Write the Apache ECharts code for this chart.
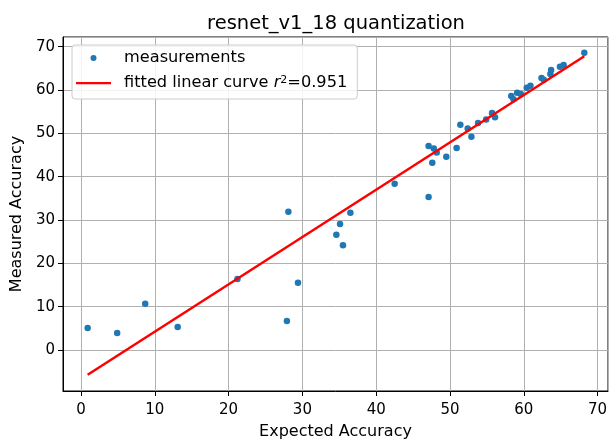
<!DOCTYPE html>
<html>
<head>
<meta charset="utf-8">
<script src="https://cdn.jsdelivr.net/npm/echarts@6/dist/echarts.min.js"></script>
<style>
html,body{margin:0;padding:0;background:#fff;}
#chart{width:609px;height:440px;}
</style>
</head>
<body>
<div id="chart"></div>
<script>
// ---- data ----
const expectedAccuracy = [0.9, 4.9, 8.7, 13.1, 21.2, 27.9, 28.1, 29.4, 34.6, 35.1, 35.5, 36.5, 42.5, 47.1, 47.1, 47.6, 47.8, 48.2, 49.5, 50.9, 51.4, 52.4, 52.9, 53.8, 54.9, 55.7, 56.1, 58.3, 58.6, 59.1, 59.6, 60.4, 60.9, 62.4, 62.7, 63.6, 63.7, 64.9, 65.4, 68.2];
const measuredAccuracy = [5.1, 3.9, 10.7, 5.3, 16.4, 6.7, 31.9, 15.5, 26.6, 29.1, 24.2, 31.7, 38.4, 35.3, 47.1, 43.2, 46.5, 45.6, 44.6, 46.6, 52.0, 51.1, 49.2, 52.4, 53.2, 54.7, 53.7, 58.6, 57.9, 59.4, 59.1, 60.5, 61.0, 62.8, 62.4, 63.7, 64.6, 65.4, 65.8, 68.6];
const fitX = [0.9, 68.2];
const fitY = [-5.7, 67.8];
const xTicks = [0, 10, 20, 30, 40, 50, 60, 70];
const yTicks = [0, 10, 20, 30, 40, 50, 60, 70];
const titleText = 'resnet_v1_18 quantization';
const xName = 'Expected Accuracy';
const yName = 'Measured Accuracy';
const scatterName = 'measurements';
const lineName = 'fitted linear curve r²=0.951';

const FONT = '"DejaVu Sans", sans-serif';
const scatterData = expectedAccuracy.map((x, i) => [x, measuredAccuracy[i]]);
const lineData = fitX.map((x, i) => [x, fitY[i]]);

const chart = echarts.init(document.getElementById('chart'), null, {renderer: 'canvas'});
const tickFmt = (list) => (v) => list.indexOf(Math.round(v * 1000) / 1000) >= 0 ? String(Math.round(v)) : '';

chart.setOption({
  animation: false,
  backgroundColor: '#fff',
  title: {
    text: titleText,
    left: 331, textAlign: 'center',
    top: 9,
    textStyle: {fontFamily: FONT, fontSize: 19.5, fontWeight: 'normal', color: '#000'}
  },
  grid: {left: 63, right: 1, top: 37, bottom: 49, containLabel: false, outerBoundsMode: 'none', show: true, borderColor: '#000', borderWidth: 1, backgroundColor: 'transparent'},
  legend: {
    orient: 'vertical',
    left: 72, top: 45,
    padding: [5, 10, 7, 4],
    itemGap: 9,
    itemWidth: 43, itemHeight: 14,
    backgroundColor: 'rgba(255,255,255,0.85)',
    borderColor: '#cccccc', borderWidth: 1, borderRadius: 3,
    data: [
      {name: scatterName, icon: 'path://M0,0M43,14M14.5,7a3,3 0 1,0 6,0a3,3 0 1,0 -6,0'},
      {name: lineName, icon: 'path://M0,0M43,14M0,6L35,6L35,8.2L0,8.2Z'}
    ],
    formatter: function (name) {
      if (name === lineName) return '{n|fitted linear curve }{i|r}{s|2}{n|=0.951}';
      return '{n|' + name + '}';
    },
    textStyle: {
      fontFamily: FONT, fontSize: 16.2, color: '#000', lineHeight: 16,
      rich: {
        n: {fontFamily: FONT, fontSize: 16.2, color: '#000', lineHeight: 16},
        i: {fontFamily: FONT, fontSize: 16.2, color: '#000', fontStyle: 'italic', lineHeight: 16},
        s: {fontFamily: FONT, fontSize: 11, color: '#000', verticalAlign: 'top', lineHeight: 16, padding: [0, 0, 6, 0]}
      }
    }
  },
  xAxis: {
    type: 'value',
    min: -2.44, max: 71.41,
    splitNumber: 7,
    name: xName, nameLocation: 'middle', nameGap: 33,
    nameTextStyle: {fontFamily: FONT, fontSize: 16, color: '#000'},
    axisLine: {show: true, onZero: false, lineStyle: {color: '#000', width: 1}},
    axisTick: {show: true, length: 5, lineStyle: {color: '#000', width: 1}},
    axisLabel: {showMinLabel: false, showMaxLabel: false, fontFamily: FONT, fontSize: 15, color: '#000', margin: 12, formatter: tickFmt(xTicks)},
    splitLine: {show: true, lineStyle: {color: '#b0b0b0', width: 1}}
  },
  yAxis: {
    type: 'value',
    min: -9.46, max: 72.24,
    splitNumber: 8,
    name: yName, nameLocation: 'middle', nameGap: 38,
    nameTextStyle: {fontFamily: FONT, fontSize: 16, color: '#000'},
    axisLine: {show: true, onZero: false, lineStyle: {color: '#000', width: 1}},
    axisTick: {show: true, length: 5, lineStyle: {color: '#000', width: 1}},
    axisLabel: {showMinLabel: false, showMaxLabel: false, fontFamily: FONT, fontSize: 15, color: '#000', margin: 8, formatter: tickFmt(yTicks)},
    splitLine: {show: true, lineStyle: {color: '#b0b0b0', width: 1}}
  },
  series: [
    {
      name: scatterName,
      type: 'scatter',
      data: scatterData,
      symbol: 'circle',
      symbolSize: 6.5,
      itemStyle: {color: '#1f77b4', opacity: 1},
      z: 3
    },
    {
      name: lineName,
      type: 'line',
      data: lineData,
      symbol: 'none',
      showSymbol: false,
      lineStyle: {color: '#ff0000', width: 2.5},
      itemStyle: {color: '#ff0000'},
      z: 4
    }
  ]
});
</script>
</body>
</html>
